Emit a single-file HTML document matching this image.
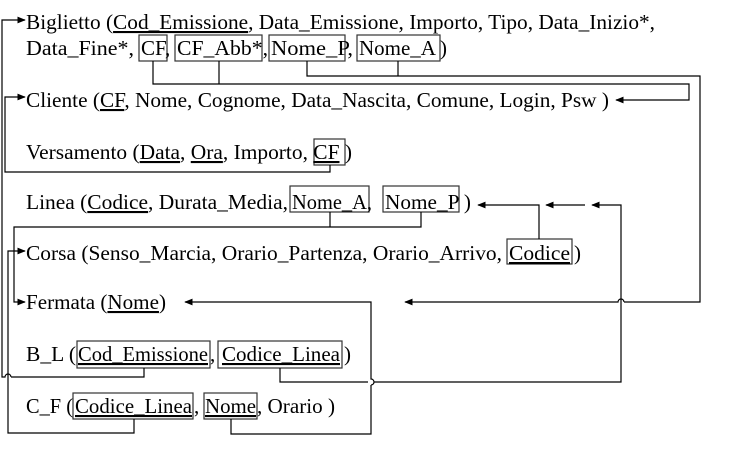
<!DOCTYPE html>
<html><head><meta charset="utf-8"><style>
html,body{margin:0;padding:0;background:#fff;}
svg{display:block;}
text{font-family:"Liberation Serif",serif;font-size:21px;fill:#000;}
.u{text-decoration:underline;}
</style></head><body>
<svg width="737" height="454" viewBox="0 0 737 454" xmlns="http://www.w3.org/2000/svg">
<defs>
<marker id="a" viewBox="0 0 10 10" refX="9" refY="5" markerWidth="7" markerHeight="7" orient="auto"><path d="M0,1 L10,5 L0,9 z" fill="#000"/></marker>
</defs>
<g fill="none" stroke="#333" stroke-width="1.2">
<rect x="139" y="35" width="28" height="26"/>
<rect x="175" y="35" width="87" height="26"/>
<rect x="269" y="35" width="76" height="26"/>
<rect x="357" y="35" width="83" height="26"/>
<rect x="314" y="139" width="31" height="26"/>
<rect x="290" y="186" width="79" height="26"/>
<rect x="383" y="186" width="76" height="26"/>
<rect x="507" y="239" width="65" height="25"/>
<rect x="77" y="341" width="133" height="27"/>
<rect x="218" y="341" width="124" height="27"/>
<rect x="73" y="393" width="120" height="26"/>
<rect x="204" y="393" width="53" height="26"/>
</g>
<g fill="none" stroke="#000" stroke-width="1.2">
<polyline points="144,368 144,377 11,377" />
<path d="M11,377 a3,3 0 0 0 -6,0 L2,377 L2,20 L25,20" marker-end="url(#a)"/>
<polyline points="330,165 330,172 5,172 5,97 25,97" marker-end="url(#a)"/>
<polyline points="153,61 153,84 689,84 689,100 616,100" marker-end="url(#a)"/>
<line x1="219" y1="61" x2="219" y2="84"/>
<polyline points="307,61 307,76 700,76 700,302 624,302"/>
<path d="M624,302 a3,3 0 0 0 -6,0 L405,302" marker-end="url(#a)"/>
<line x1="398" y1="61" x2="398" y2="76"/>
<polyline points="421,212 421,227 14,227 14,302 25,302" marker-end="url(#a)"/>
<line x1="330" y1="212" x2="330" y2="227"/>
<polyline points="134,419 134,433 8,433 8,251 25,251" marker-end="url(#a)"/>
<polyline points="231,419 231,434 371,434 371,385"/>
<path d="M371,385 a3,3 0 0 0 0,-6 L371,302 L185,302" marker-end="url(#a)"/>
<polyline points="280,368 280,382 368,382"/>
<path d="M374,382 L621,382 L621,205 L592,205" marker-end="url(#a)"/>
<line x1="585" y1="205" x2="546" y2="205" marker-end="url(#a)"/>
<polyline points="539,239 539,205 478,205" marker-end="url(#a)"/>
</g>
<text x="26" y="29" textLength="629" lengthAdjust="spacingAndGlyphs">Biglietto (<tspan class="u">Cod_Emissione</tspan>, Data_Emissione, Importo, Tipo, Data_Inizio*,</text>
<text x="26" y="55" textLength="108" lengthAdjust="spacingAndGlyphs">Data_Fine*,</text>
<text x="141" y="55">CF,</text>
<text x="177" y="55" textLength="91" lengthAdjust="spacingAndGlyphs">CF_Abb*,</text>
<text x="271" y="55" textLength="82" lengthAdjust="spacingAndGlyphs">Nome_P,</text>
<text x="359" y="55" textLength="88" lengthAdjust="spacingAndGlyphs">Nome_A )</text>
<text x="26" y="107" textLength="583" lengthAdjust="spacingAndGlyphs">Cliente (<tspan class="u">CF</tspan>, Nome, Cognome, Data_Nascita, Comune, Login, Psw )</text>
<text x="26" y="159" textLength="326" lengthAdjust="spacingAndGlyphs">Versamento (<tspan class="u">Data</tspan>, <tspan class="u">Ora</tspan>, Importo, <tspan class="u">CF</tspan> )</text>
<text x="26" y="209" textLength="262" lengthAdjust="spacingAndGlyphs">Linea (<tspan class="u">Codice</tspan>, Durata_Media,</text>
<text x="292" y="209" textLength="80" lengthAdjust="spacingAndGlyphs">Nome_A,</text>
<text x="385" y="209" textLength="86" lengthAdjust="spacingAndGlyphs">Nome_P )</text>
<text x="26" y="260" textLength="476" lengthAdjust="spacingAndGlyphs">Corsa (Senso_Marcia, Orario_Partenza, Orario_Arrivo,</text>
<text x="509" y="260" class="u" textLength="61" lengthAdjust="spacingAndGlyphs">Codice</text>
<text x="574" y="260">)</text>
<text x="26" y="309" textLength="140" lengthAdjust="spacingAndGlyphs">Fermata (<tspan class="u">Nome</tspan>)</text>
<text x="26" y="361" textLength="50" lengthAdjust="spacingAndGlyphs">B_L (</text>
<text x="78" y="361" class="u" textLength="130" lengthAdjust="spacingAndGlyphs">Cod_Emissione</text>
<text x="210" y="361">,</text>
<text x="222" y="361" class="u" textLength="118" lengthAdjust="spacingAndGlyphs">Codice_Linea</text>
<text x="344" y="361">)</text>
<text x="26" y="413" textLength="47" lengthAdjust="spacingAndGlyphs">C_F (</text>
<text x="75" y="413" class="u" textLength="117" lengthAdjust="spacingAndGlyphs">Codice_Linea</text>
<text x="194" y="413">,</text>
<text x="205" y="413" class="u" textLength="51" lengthAdjust="spacingAndGlyphs">Nome</text>
<text x="257" y="413" textLength="78" lengthAdjust="spacingAndGlyphs">, Orario )</text>
</svg>
</body></html>
